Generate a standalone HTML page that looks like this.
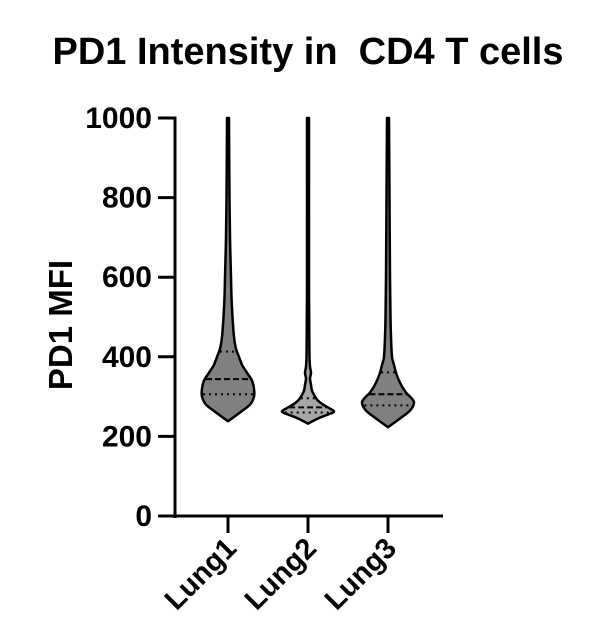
<!DOCTYPE html>
<html><head><meta charset="utf-8"><style>
body{margin:0;background:#fff}
svg text{font-family:"Liberation Sans",Arial,sans-serif;font-weight:bold;fill:#000}
</style></head><body>
<svg id="chart" width="592" height="631">
<text x="308" y="64" text-anchor="middle" font-size="38" style="white-space:pre">PD1 Intensity in  CD4 T cells</text>
<text transform="translate(72,325) rotate(-90)" text-anchor="middle" font-size="33">PD1 MFI</text>
<g id="axes"></g><g id="violins"></g>
</svg>
<script>
const categories=["Lung1","Lung2","Lung3"];
const yTicks=[0,200,400,600,800,1000];
const fills=["#808080","#a6a6a6","#808080"];
// density profiles: [value, half-width density]
const lung1Values=[238,260,280,300,320,340,360,380,400,420,450,500,550,600,700,800,900,1000];
const lung1Density=[0,12,22,26,26,24,19,14,11,8,6,4.5,3.5,3,2,1.5,1.2,1];
const lung2Values=[232,245,255,262,270,280,290,300,315,330,345,360,375,400,450,500,600,1000];
const lung2Density=[0,10,20,26,22,15,10,7,4,3,2,3,2,1.5,1.3,1.2,1,1];
const lung3Values=[223,245,265,285,300,310,335,360,380,400,450,500,600,800,1000];
const lung3Density=[0,12,22,26,22,18,12,8,6,4,3,2.5,2,1.5,1];
const medians=[344,273,306];
const q1s=[306,260,278];
const q3s=[413,296,361];
const seriesV=[lung1Values,lung2Values,lung3Values];
const seriesD=[lung1Density,lung2Density,lung3Density];

const NS="http://www.w3.org/2000/svg";
const y=v=>516-v*0.398;
const x=i=>228+i*80;
const w=d=>d*1.0;
function mk(t,a,p){const e=document.createElementNS(NS,t);for(const k in a)e.setAttribute(k,a[k]);p.appendChild(e);return e;}
function curve(pts){
 let d='';
 for(let k=0;k<pts.length-1;k++){
  const p0=pts[Math.max(k-1,0)],p1=pts[k],p2=pts[k+1],p3=pts[Math.min(k+2,pts.length-1)];
  d+=` C${p1[0]+(p2[0]-p0[0])/6},${p1[1]+(p2[1]-p0[1])/6} ${p2[0]-(p3[0]-p1[0])/6},${p2[1]-(p3[1]-p1[1])/6} ${p2[0]},${p2[1]}`;
 }
 return d;
}
const ax=document.getElementById('axes'),vg=document.getElementById('violins');
let e=mk('line',{x1:175,y1:y(1000)-1.5,x2:175,y2:518,stroke:'#000','stroke-width':3},ax);


e=mk('line',{x1:158,y1:516,x2:443,y2:516,stroke:'#000','stroke-width':3},ax);


yTicks.forEach(t=>{
 let l=mk('line',{x1:158,y1:y(t),x2:175,y2:y(t),stroke:'#000','stroke-width':3},ax);
 
 
 let tx=mk('text',{x:152,y:y(t)+10,'text-anchor':'end','font-size':30},ax);tx.textContent=t;
 
 
});
categories.forEach((c,i)=>{
 let l=mk('line',{x1:x(i),y1:516,x2:x(i),y2:533,stroke:'#000','stroke-width':3},ax);
 
 
 let tx=mk('text',{transform:`translate(${x(i)+10},${550}) rotate(-45)`,'text-anchor':'end','font-size':29},ax);tx.textContent=c;
 
 
 const V=seriesV[i],D=seriesD[i],cx=x(i);
 const right=V.map((v,k)=>[cx+w(D[k]),y(v)]);
 const left=V.map((v,k)=>[cx-w(D[k]),y(v)]);
 const top=V.length-1;
 let d=`M${left[top][0]},${left[top][1]} L${right[top][0]},${right[top][1]}`+curve(right.slice().reverse())+curve(left)+'Z';
 let p=mk('path',{d:d,fill:fills[i],stroke:'#000','stroke-width':2.5,'stroke-linejoin':'round'},vg);
 
 
 const hw=v=>{for(let k=0;k<V.length-1;k++){if(v>=V[k]&&v<=V[k+1]){const f=(v-V[k])/(V[k+1]-V[k]);return w(D[k]+f*(D[k+1]-D[k]));}}return 0;};
 [[medians[i],'6,3','median-line'],[q1s[i],'2,4','q1-line'],[q3s[i],'2,4','q3-line']].forEach(([v,da,n])=>{
  const h=hw(v)-1;
  let ln=mk('line',{x1:cx-h,y1:y(v),x2:cx+h,y2:y(v),stroke:'#000','stroke-width':2,'stroke-dasharray':da},vg);
  
  
 });
});
</script>
</body></html>
